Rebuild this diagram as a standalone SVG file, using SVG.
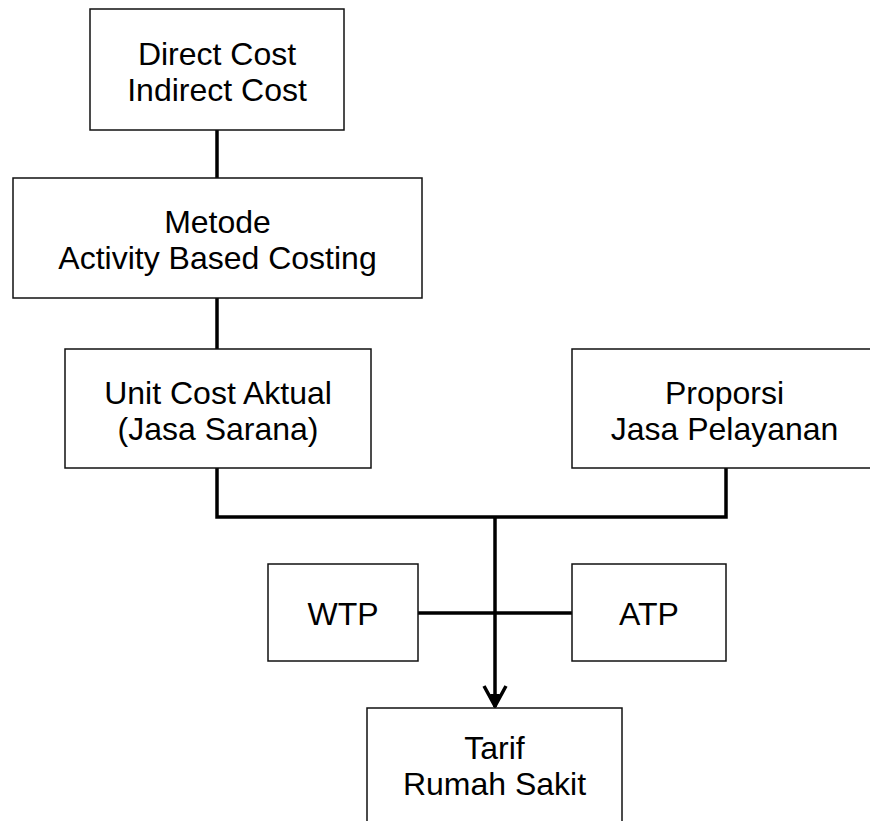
<svg xmlns="http://www.w3.org/2000/svg" width="870" height="821" viewBox="0 0 870 821">
<style>
.box{fill:#fff;stroke:#111;stroke-width:1.5}
.lbl{font-family:"Liberation Sans",Arial,sans-serif;font-size:32px;fill:#000;text-anchor:middle}
.conn{fill:none;stroke:#000;stroke-width:3.5}
</style>
<defs>
<marker id="arr" markerUnits="userSpaceOnUse" markerWidth="26" markerHeight="26" refX="23" refY="13" orient="auto" viewBox="0 0 26 26">
<path d="M2,2 L22,13 L2,24" fill="none" stroke="#000" stroke-width="3.5"/>
<path d="M10,8 L23,13 L10,18 Z" fill="#000"/>
</marker>
</defs>
<rect width="870" height="821" fill="#fff"/>
<g id="connectors">
<line class="conn" x1="217" y1="130" x2="217" y2="178"/>
<line class="conn" x1="217" y1="298" x2="217" y2="349"/>
<polyline class="conn" points="217,468 217,517 726,517 726,468"/>
<line class="conn" x1="418" y1="613" x2="572" y2="613"/>
<line class="conn" x1="495" y1="517" x2="495" y2="707" marker-end="url(#arr)"/>
</g>
<g id="direct-cost">
<rect class="box" x="90" y="9" width="254" height="121"/>
<text class="lbl" x="217" y="65">Direct Cost</text>
<text class="lbl" x="217" y="101">Indirect Cost</text>
</g>
<g id="abc">
<rect class="box" x="13" y="178" width="409" height="120"/>
<text class="lbl" x="217.5" y="233">Metode</text>
<text class="lbl" x="217.5" y="269">Activity Based Costing</text>
</g>
<g id="unit-cost">
<rect class="box" x="65" y="349" width="306" height="119"/>
<text class="lbl" x="218" y="404">Unit Cost Aktual</text>
<text class="lbl" x="218" y="440">(Jasa Sarana)</text>
</g>
<g id="proporsi">
<rect class="box" x="572" y="349" width="310" height="119"/>
<text class="lbl" x="724.5" y="404">Proporsi</text>
<text class="lbl" x="724.5" y="440">Jasa Pelayanan</text>
</g>
<g id="wtp">
<rect class="box" x="268" y="564" width="150" height="97"/>
<text class="lbl" x="343" y="625">WTP</text>
</g>
<g id="atp">
<rect class="box" x="572" y="564" width="154" height="97"/>
<text class="lbl" x="649" y="625">ATP</text>
</g>
<g id="tarif">
<rect class="box" x="367" y="708" width="255" height="125"/>
<text class="lbl" x="494.5" y="759">Tarif</text>
<text class="lbl" x="494.5" y="795">Rumah Sakit</text>
</g>
</svg>
